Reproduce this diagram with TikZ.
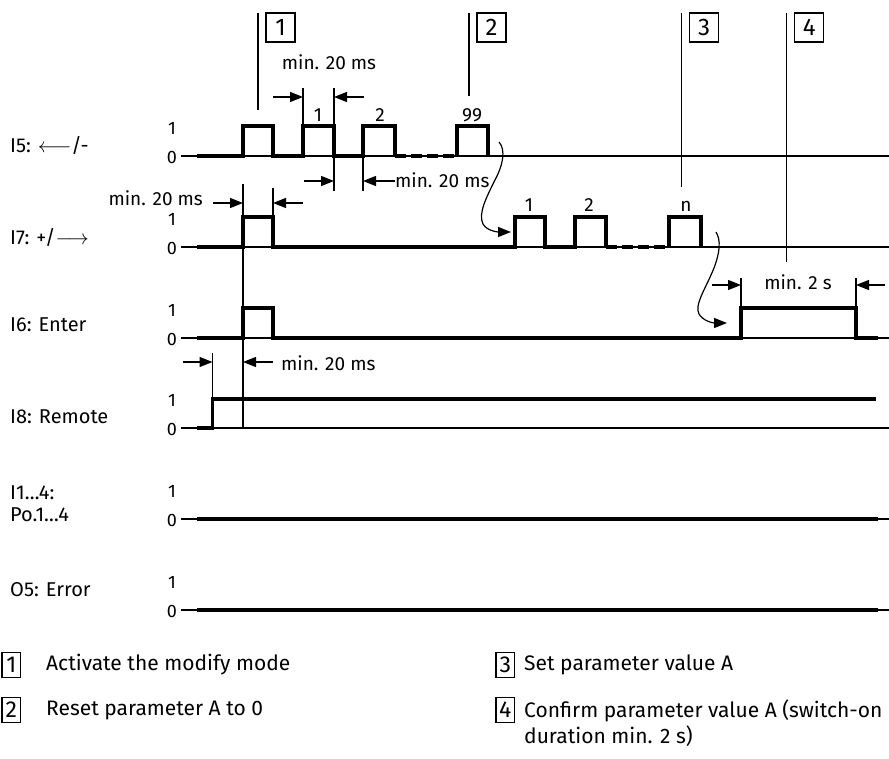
\documentclass[tikz,border=0pt]{standalone}
\usepackage{fontspec}
\setmainfont{Fira Sans}
\usetikzlibrary{arrows.meta}
\begin{document}
\begin{tikzpicture}[x=1pt,y=-1pt,
  thinl/.style={line width=1.2pt},
  sig/.style={line width=3.4pt,line join=miter},
  dotsig/.style={line width=3.4pt,dash pattern=on 11pt off 5pt},
  dim/.style={line width=1.2pt,-{Triangle[length=13pt,width=10pt]}},
  curv/.style={line width=1.2pt,-{Triangle[length=13pt,width=10pt]}},
  txt/.style={font=\fontsize{19}{21}\selectfont,inner sep=0pt},
  lab/.style={font=\fontsize{20}{22}\selectfont,inner sep=0pt,anchor=west},
  lvl/.style={font=\fontsize{18}{20}\selectfont,inner sep=0pt},
  mbox/.style={draw,line width=1.2pt,minimum width=29pt,minimum height=29pt,inner sep=0pt,font=\fontsize{24}{26}\selectfont},
  lbox/.style={draw,line width=1.2pt,minimum width=18.6pt,minimum height=25pt,inner sep=0pt,font=\fontsize{23}{25}\selectfont},
  leg/.style={font=\fontsize{21}{26}\selectfont,inner sep=0pt,anchor=west,align=left}
]
\useasboundingbox (0,0) rectangle (889,758);

% ---------- thin baselines and level labels ----------
\foreach \b/\n in {156/a,247/b,338/c,428/d,519/e,610/f}{
  \draw[thinl] (181,\b) -- (889,\b);
  \node[lvl] (one\n) at (172,\b-28) {1};
  \node[lvl] (zero\n) at (172,\b+1) {0};
}

% ---------- signal names ----------
\node[lab] (nI5) at (10,145) {I5: $\longleftarrow$/-};
\node[lab] (nI7) at (10,237) {I7: +/$\longrightarrow$};
\node[lab] (nI6) at (10,325) {I6: Enter};
\node[lab] (nI8) at (10,417) {I8: Remote};
\node[lab] (nI1) at (10,493) {I1…4:};
\node[lab] (nPo) at (10,515) {Po.1…4};
\node[lab] (nO5) at (10,590) {O5: Error};

% ---------- I5 ----------
\draw[sig] (197,156) -- (243,156) -- (243,126) -- (273,126) -- (273,156)
  -- (303,156) -- (303,126) -- (334,126) -- (334,156)
  -- (363,156) -- (363,126) -- (395,126) -- (395,156);
\draw[dotsig] (395,156) -- (457,156);
\draw[sig] (457,156) -- (457,126) -- (488,126) -- (488,156);
\node[txt,anchor=base] (p51) at (318,121.5) {1};
\node[txt,anchor=base] (p52) at (380,121.5) {2};
\node[txt,anchor=base] (p599) at (472,121.5) {99};

% ---------- I7 ----------
\draw[sig] (197,247) -- (243,247) -- (243,217) -- (273,217) -- (273,247)
  -- (515,247) -- (515,217) -- (545,217) -- (545,247)
  -- (575,247) -- (575,217) -- (606,217) -- (606,247);
\draw[dotsig] (606,247) -- (669,247);
\draw[sig] (669,247) -- (669,217) -- (701,217) -- (701,247);
\node[txt,anchor=base] (p71) at (529,211.5) {1};
\node[txt,anchor=base] (p72) at (589,211.5) {2};
\node[txt,anchor=base] (p7n) at (686,211.5) {n};

% ---------- I6 ----------
\draw[sig] (197,338) -- (243,338) -- (243,308) -- (273,308) -- (273,338)
  -- (741,338) -- (741,308) -- (856,308) -- (856,338) -- (878,338);

% ---------- I8 ----------
\draw[sig] (197,428) -- (212.5,428) -- (212.5,399) -- (876,399);

% ---------- I1...4 and O5 ----------
\draw[sig] (197,519) -- (878,519);
\draw[sig] (197,610) -- (878,610);

% ---------- step markers ----------
\draw[thinl] (258,13) -- (258,110);
\node[mbox] (m1) at (280.5,27.5) {1};
\draw[thinl] (469,13) -- (469,96);
\node[mbox] (m2) at (491.5,27.5) {2};
\draw[thinl] (681.5,13) -- (681.5,187);
\node[mbox] (m3) at (704,27.5) {3};
\draw[thinl] (786.7,13) -- (786.7,262);
\node[mbox] (m4) at (809.2,27.5) {4};

% ---------- dimension: I5 pulse width ----------
\draw[thinl] (303,88) -- (303,126);
\draw[thinl] (334,88) -- (334,126);
\draw[dim] (273,97) -- (303,97);
\draw[dim] (364,97) -- (334,97);
\node[txt] (d1) at (329,62) {min. 20 ms};

% ---------- dimension: I5 pause ----------
\draw[thinl] (334,156) -- (334,191);
\draw[thinl] (363,156) -- (363,191);
\draw[dim] (304,181) -- (334,181);
\draw[dim] (395,181) -- (363,181);
\node[txt,anchor=west] (d2) at (395,180) {min. 20 ms};

% ---------- dimension: I7 pulse ----------
\draw[thinl] (243,184) -- (243,428);
\draw[thinl] (273,188) -- (273,217);
\draw[dim] (213,203) -- (243,203);
\draw[dim] (303,203) -- (273,203);
\node[txt,anchor=east] (d3) at (203,198) {min. 20 ms};

% ---------- dimension: I8 before enter ----------
\draw[thinl] (212.5,353) -- (212.5,399);
\draw[dim] (183,362) -- (212.5,362);
\draw[dim] (273,362) -- (243,362);
\node[txt,anchor=west] (d4) at (281,363) {min. 20 ms};

% ---------- dimension: I6 min 2 s ----------
\draw[thinl] (741,278) -- (741,308);
\draw[thinl] (856,278) -- (856,308);
\draw[dim] (712,285) -- (741,285);
\draw[dim] (885,285) -- (856,285);
\node[txt] (d5) at (798,282) {min. 2 s};

% ---------- curved arrows ----------
\coordinate (c1s) at (499,142);
\coordinate (c1e) at (511,232);
\draw[curv] (c1s) .. controls (506,150) and (503,165) .. (495,180)
  .. controls (486,198) and (478,214) .. (483,224)
  .. controls (487,231) and (498,232) .. (c1e);
\coordinate (c2s) at (716,232);
\coordinate (c2e) at (727,323);
\draw[curv] (c2s) .. controls (721,240) and (720,252) .. (714,268)
  .. controls (706,288) and (694,305) .. (699,314)
  .. controls (703,321) and (713,323) .. (c2e);

% ---------- legend ----------
\node[lbox] (l1) at (11.3,665) {1};
\node[leg] (t1) at (46,665) {Activate the modify mode};
\node[lbox] (l2) at (11.3,710) {2};
\node[leg] (t2) at (46,710) {Reset parameter A to 0};
\node[lbox] (l3) at (505.3,665) {3};
\node[leg] (t3) at (524,665) {Set parameter value A};
\node[lbox] (l4) at (505.3,710) {4};
\node[leg,anchor=north west] (t4) at (524,700) {Confirm parameter value A (switch-on\\duration min. 2 s)};
\end{tikzpicture}
\end{document}
